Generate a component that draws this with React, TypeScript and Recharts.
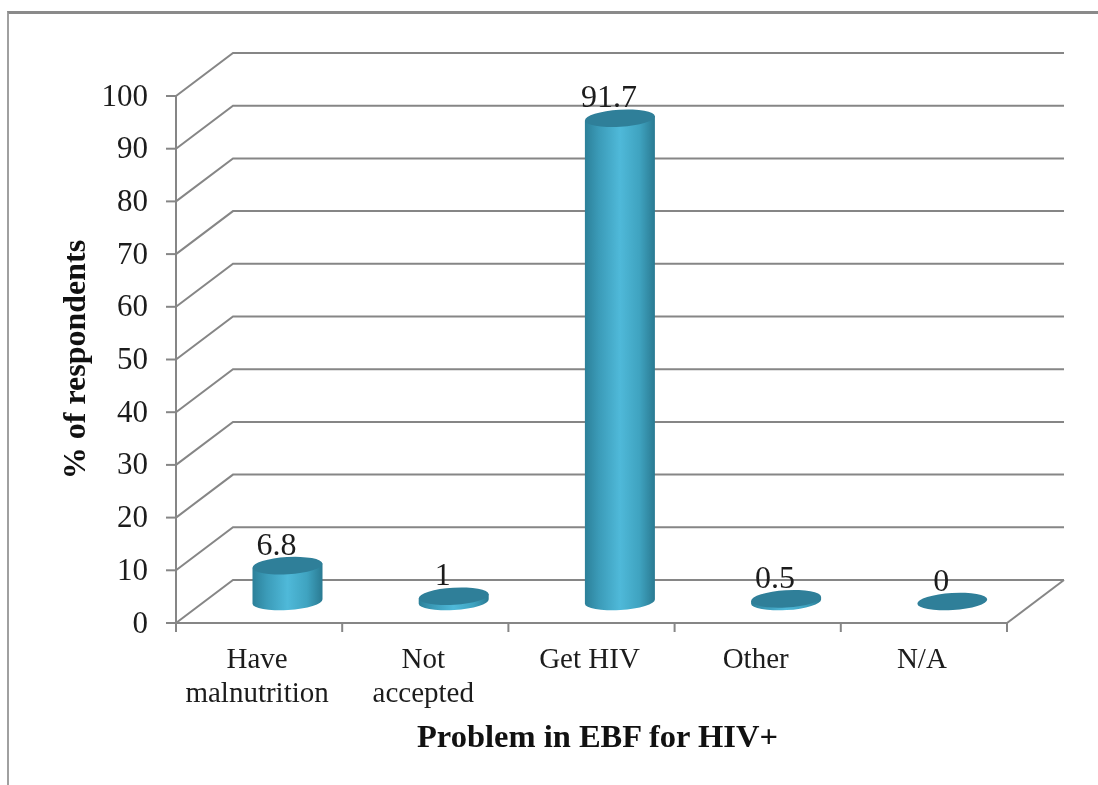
import React from "react";
import { BarChart, Bar, XAxis, YAxis, CartesianGrid, Label } from "recharts";

const categories = ["Have malnutrition", "Not accepted", "Get HIV", "Other", "N/A"];
const tickLines = [["Have", "malnutrition"], ["Not", "accepted"], ["Get HIV"], ["Other"], ["N/A"]];
const values = [6.8, 1, 91.7, 0.5, 0];
const yTicks = [0, 10, 20, 30, 40, 50, 60, 70, 80, 90, 100];
const xTitle = "Problem in EBF for HIV+";
const yTitle = "% of respondents";

const W = 1098;
const H = 785;
const PLOT_L = 176;
const PLOT_R = 1007;
const PLOT_T = 96;
const PLOT_B = 623;
const DX = 57;
const DY = -43;
const AXIS = "#868686";
const INK = "#1c1c1c";
const FONT = "'Liberation Serif', serif";
const RX = 35;
const RY = 8.6;
const TILT = 3.5;
const T = RX * Math.sin((TILT * Math.PI) / 180);

const data = categories.map((name, i) => ({ name, value: values[i] }));

function GridLine(props: any) {
  const { x1, x2, y1 } = props;
  const isFloor = Math.abs(y1 - PLOT_B) < 0.5;
  return (
    <g stroke={AXIS} strokeWidth={2} fill="none">
      <path d={`M${x1} ${y1} L${x1 + DX} ${y1 + DY} L${x2 + DX} ${y1 + DY}`} />
      {isFloor && <path d={`M${x2 + DX} ${y1 + DY} L${x2} ${y1}`} />}
    </g>
  );
}

function Cylinder(props: any) {
  const { x, y, width, height } = props;
  const cx = x + width / 2 + DX / 2;
  const yTop = y + DY / 2;
  const yBot = y + height + DY / 2;
  const L = cx - RX;
  const R = cx + RX;
  const side = `M${L} ${yTop + T} L${L} ${yBot + T} A${RX} ${RY} ${-TILT} 0 0 ${R} ${yBot - T} L${R} ${yTop - T} Z`;
  return (
    <g>
      {height > 0 && <path d={side} fill="url(#cylBody)" />}
      <ellipse cx={cx} cy={yTop} rx={RX} ry={RY} transform={`rotate(${-TILT} ${cx} ${yTop})`} fill="#2f7f99" />
    </g>
  );
}

function ValueLabel(props: any) {
  const { x, y, width, value } = props;
  return (
    <text
      x={x + width / 2 + DX / 2 - 11}
      y={y + DY / 2 - 11}
      textAnchor="middle"
      fontFamily={FONT}
      fontSize={32}
      fill={INK}
    >
      {value}
    </text>
  );
}

function CategoryTick(props: any) {
  const { x, y, index } = props;
  const half = (PLOT_R - PLOT_L) / categories.length / 2;
  return (
    <g>
      <line x1={x - half} x2={x - half} y1={PLOT_B} y2={PLOT_B + 9} stroke={AXIS} strokeWidth={2} />
      {index === categories.length - 1 && (
        <line x1={x + half} x2={x + half} y1={PLOT_B} y2={PLOT_B + 9} stroke={AXIS} strokeWidth={2} />
      )}
      <text textAnchor="middle" fontFamily={FONT} fontSize={29} fill={INK}>
        {tickLines[index].map((line: string, i: number) => (
          <tspan key={line} x={x - 2} y={y + 37 + i * 34}>
            {line}
          </tspan>
        ))}
      </text>
    </g>
  );
}

export default function App() {
  return (
    <div style={{ position: "absolute", left: 0, top: 0, width: W, height: H, overflow: "hidden", background: "#fff" }}>
      <div
        style={{
          position: "absolute",
          left: 7,
          top: 11,
          width: W,
          height: H,
          borderTop: "3px solid #8a8a8a",
          borderLeft: "2px solid #a0a0a0",
        }}
      />
      <div style={{ position: "absolute", left: 0, top: 0, filter: "blur(0.4px)" }}>
        <BarChart
          width={W}
          height={H}
          data={data}
          barSize={70}
          margin={{ top: PLOT_T, right: W - PLOT_R, bottom: 0, left: 0 }}
        >
          <defs>
            <linearGradient id="cylBody" x1="0" y1="0" x2="1" y2="0">
              <stop offset="0%" stopColor="#2c8099" />
              <stop offset="20%" stopColor="#3b9bb8" />
              <stop offset="50%" stopColor="#4fb9d9" />
              <stop offset="78%" stopColor="#3fa3c0" />
              <stop offset="100%" stopColor="#2a7a92" />
            </linearGradient>
          </defs>
          <CartesianGrid vertical={false} horizontal={(p: any) => <GridLine key={p.key} {...p} />} />
          <XAxis
            dataKey="name"
            height={H - PLOT_B}
            interval={0}
            tickLine={false}
            axisLine={{ stroke: AXIS, strokeWidth: 2 }}
            tick={<CategoryTick />}
          >
            <Label
              position="insideTop"
              offset={101}
              dx={6}
              value={xTitle}
              style={{ fontFamily: FONT, fontSize: 32.5, fontWeight: 700, fill: "#111" }}
            />
          </XAxis>
          <YAxis
            width={PLOT_L}
            domain={[0, 100]}
            ticks={yTicks}
            interval={0}
            tickSize={10}
            tickMargin={18}
            axisLine={{ stroke: AXIS, strokeWidth: 2 }}
            tickLine={{ stroke: AXIS, strokeWidth: 2 }}
            tick={{ fontFamily: FONT, fontSize: 31, fill: INK, dy: -1.5 }}
          >
            <Label
              angle={-90}
              position="insideLeft"
              offset={74}
              value={yTitle}
              style={{ fontFamily: FONT, fontSize: 32, fontWeight: 700, fill: "#111", textAnchor: "middle" }}
            />
          </YAxis>
          <Bar dataKey="value" isAnimationActive={false} shape={<Cylinder />} label={<ValueLabel />} />
        </BarChart>
      </div>
    </div>
  );
}
